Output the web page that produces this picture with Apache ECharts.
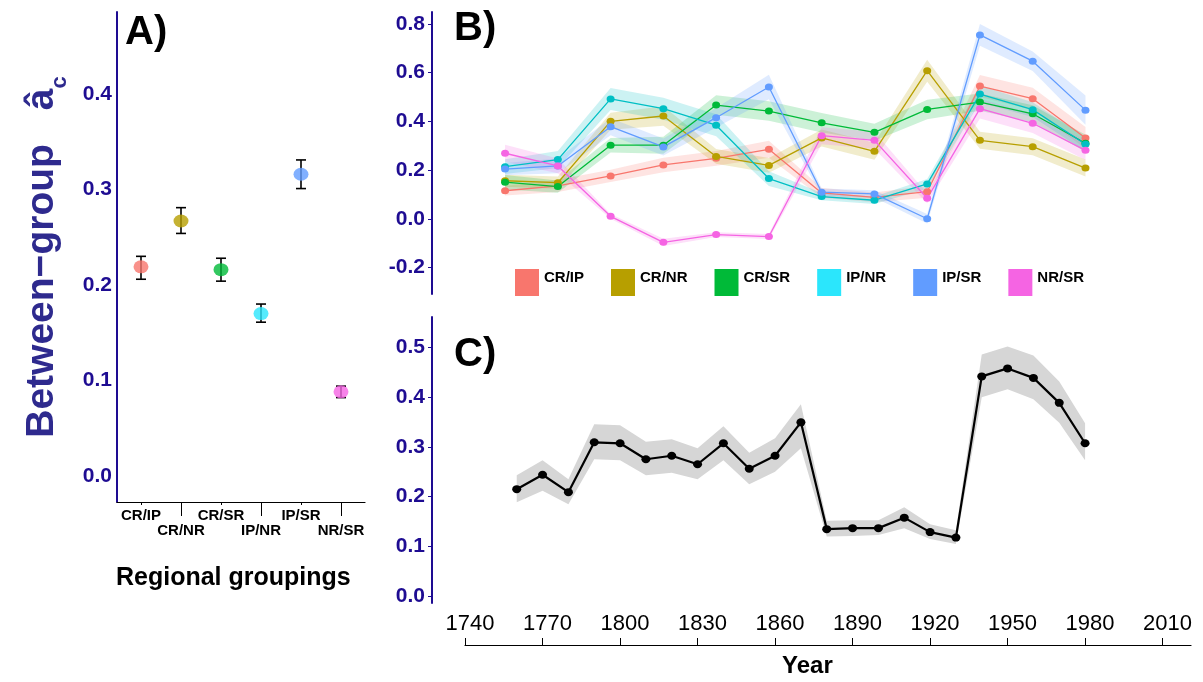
<!DOCTYPE html>
<html>
<head>
<meta charset="utf-8">
<script src="https://cdn.jsdelivr.net/npm/echarts@6/dist/echarts.min.js"></script>
<style>
  html, body { margin: 0; padding: 0; background: #fff; }
  #chart-container { width: 1203px; height: 682px; }
</style>
</head>
<body>
<div id="chart-container"></div>
<script>
var FONT = '"Liberation Sans", Arial, sans-serif';
var AXIS_BLUE = '#1E0C92';
var NAME_BLUE = '#2E2A8E';

// groups shared by the three panels
var groups = ['CR/IP', 'CR/NR', 'CR/SR', 'IP/NR', 'IP/SR', 'NR/SR'];
var lineColors = ['#F8766D', '#B79F00', '#00BA38', '#00BFC4', '#619CFF', '#F564E3'];
var keyColors = ['#F8766D', '#B79F00', '#00BA38', '#2BE6FC', '#619CFF', '#F564E3'];

// Panel A: between-group estimate with error bars
var aMean = [0.219, 0.267, 0.216, 0.170, 0.316, 0.088];
var aLow  = [0.206, 0.254, 0.204, 0.161, 0.301, 0.082];
var aHigh = [0.230, 0.281, 0.228, 0.180, 0.331, 0.094];
var aTicks = [0, 0.1, 0.2, 0.3, 0.4];

// Panel B: per-pair estimate over time (value and half-width of ribbon)
var bYears = [1760, 1780, 1800, 1820, 1840, 1860, 1880, 1900, 1920, 1940, 1960, 1980];
var bCrIp = [0.115, 0.135, 0.176, 0.221, 0.248, 0.285, 0.106, 0.088, 0.111, 0.545, 0.493, 0.332];
var bCrNr = [0.156, 0.148, 0.400, 0.422, 0.256, 0.219, 0.332, 0.277, 0.608, 0.322, 0.296, 0.208];
var bCrSr = [0.150, 0.132, 0.302, 0.302, 0.467, 0.442, 0.394, 0.355, 0.449, 0.479, 0.431, 0.310];
var bIpNr = [0.214, 0.243, 0.492, 0.452, 0.384, 0.165, 0.091, 0.076, 0.143, 0.512, 0.448, 0.306];
var bIpSr = [0.204, 0.217, 0.378, 0.295, 0.415, 0.541, 0.109, 0.102, 0.000, 0.755, 0.647, 0.446];
var bNrSr = [0.269, 0.217, 0.010, -0.097, -0.065, -0.073, 0.341, 0.322, 0.084, 0.452, 0.392, 0.281];
var bCrIpErr = [0.020, 0.025, 0.025, 0.030, 0.030, 0.035, 0.020, 0.020, 0.025, 0.045, 0.045, 0.045];
var bCrNrErr = [0.025, 0.025, 0.035, 0.040, 0.030, 0.030, 0.035, 0.035, 0.045, 0.035, 0.035, 0.035];
var bCrSrErr = [0.030, 0.025, 0.030, 0.035, 0.040, 0.040, 0.040, 0.035, 0.040, 0.035, 0.035, 0.035];
var bIpNrErr = [0.030, 0.035, 0.045, 0.045, 0.045, 0.030, 0.015, 0.015, 0.020, 0.035, 0.030, 0.030];
var bIpSrErr = [0.025, 0.030, 0.035, 0.035, 0.040, 0.050, 0.015, 0.015, 0.020, 0.045, 0.040, 0.060];
var bNrSrErr = [0.035, 0.030, 0.010, 0.015, 0.010, 0.010, 0.035, 0.035, 0.020, 0.040, 0.040, 0.040];
var bTicks = [-0.2, 0, 0.2, 0.4, 0.6, 0.8];

// Panel C: overall estimate over time
var cYears = [1760, 1770, 1780, 1790, 1800, 1810, 1820, 1830, 1840, 1850, 1860, 1870,
              1880, 1890, 1900, 1910, 1920, 1930, 1940, 1950, 1960, 1970, 1980];
var cMean = [0.215, 0.244, 0.209, 0.309, 0.307, 0.275, 0.282, 0.265, 0.307, 0.256, 0.282, 0.349,
             0.135, 0.137, 0.137, 0.158, 0.129, 0.118, 0.441, 0.457, 0.438, 0.388, 0.307];
var cLow  = [0.189, 0.212, 0.185, 0.275, 0.273, 0.243, 0.248, 0.235, 0.273, 0.225, 0.250, 0.297,
             0.120, 0.121, 0.123, 0.137, 0.115, 0.105, 0.399, 0.415, 0.395, 0.348, 0.273];
var cHigh = [0.243, 0.273, 0.235, 0.345, 0.343, 0.310, 0.315, 0.297, 0.341, 0.288, 0.317, 0.385,
             0.152, 0.153, 0.153, 0.179, 0.145, 0.133, 0.485, 0.501, 0.483, 0.431, 0.347];
var cTicks = [0, 0.1, 0.2, 0.3, 0.4, 0.5];
var yearTicks = [1740, 1770, 1800, 1830, 1860, 1890, 1920, 1950, 1980, 2010];

var bValues = [bCrIp, bCrNr, bCrSr, bIpNr, bIpSr, bNrSr];
var bErrors = [bCrIpErr, bCrNrErr, bCrSrErr, bIpNrErr, bIpSrErr, bNrSrErr];

var dom = document.getElementById('chart-container');
var myChart = echarts.init(dom, null, { renderer: 'canvas' });

function blueValueAxis(grid, min, max, ticks) {
    return {
        type: 'value', gridIndex: grid, min: min, max: max,
        splitLine: { show: false },
        axisLine: { show: true, onZero: false, lineStyle: { color: AXIS_BLUE, width: 2 } },
        axisTick: { show: true, length: 4, customValues: ticks, lineStyle: { color: AXIS_BLUE } },
        axisLabel: {
            customValues: ticks, margin: 7,
            color: AXIS_BLUE, fontFamily: FONT, fontWeight: 'bold', fontSize: 21,
            formatter: function (v) { return v.toFixed(1); }
        }
    };
}

function hiddenX(grid, min, max) {
    return {
        type: 'value', gridIndex: grid, min: min, max: max, show: false,
        axisLine: { onZero: false }, splitLine: { show: false }
    };
}

// one row of the staggered group labels under panel A
function groupAxis(positions, tickLength, labelMargin, showLine) {
    return {
        type: 'value', gridIndex: 0, min: 0.4, max: 6.6, position: 'bottom',
        splitLine: { show: false },
        axisLine: { show: showLine, onZero: false, lineStyle: { color: '#000', width: 1.2 } },
        axisTick: { show: true, length: tickLength, customValues: positions, lineStyle: { color: '#000' } },
        axisLabel: {
            customValues: positions, margin: labelMargin, interval: 0,
            showMinLabel: true, showMaxLabel: true,
            color: '#000', fontFamily: FONT, fontWeight: 'bold', fontSize: 15,
            formatter: function (v) { return groups[Math.round(v) - 1]; }
        }
    };
}

// ribbon drawn as one polygon through the axes' scales
function bandSeries(xIdx, yIdx, xs, lo, hi, fill) {
    return {
        type: 'custom', xAxisIndex: xIdx, yAxisIndex: yIdx, z: 1, silent: true,
        data: xs.map(function (x, i) { return [x, lo[i], hi[i]]; }),
        encode: { x: 0, y: [1, 2] },
        renderItem: function (params, api) {
            if (params.dataIndex !== 0) return;
            var top = [], bottom = [];
            for (var i = 0; i < xs.length; i++) {
                top.push(api.coord([xs[i], hi[i]]));
                bottom.unshift(api.coord([xs[i], lo[i]]));
            }
            return { type: 'polygon', shape: { points: top.concat(bottom) }, style: { fill: fill } };
        }
    };
}

var series = [];

// Panel A
series.push({
    type: 'custom', xAxisIndex: 0, yAxisIndex: 0, z: 2, silent: true,
    data: groups.map(function (g, i) { return [i + 1, aLow[i], aHigh[i]]; }),
    encode: { x: 0, y: [1, 2] },
    renderItem: function (params, api) {
        var x = api.value(0);
        var lo = api.coord([x, api.value(1)]);
        var hi = api.coord([x, api.value(2)]);
        var w = 5;
        var st = { stroke: '#000', lineWidth: 1.6 };
        return {
            type: 'group',
            children: [
                { type: 'line', shape: { x1: lo[0], y1: lo[1], x2: hi[0], y2: hi[1] }, style: st },
                { type: 'line', shape: { x1: lo[0] - w, y1: lo[1], x2: lo[0] + w, y2: lo[1] }, style: st },
                { type: 'line', shape: { x1: hi[0] - w, y1: hi[1], x2: hi[0] + w, y2: hi[1] }, style: st }
            ]
        };
    }
});
series.push({
    type: 'scatter', xAxisIndex: 0, yAxisIndex: 0, z: 3,
    symbol: 'circle', symbolSize: [15, 13],
    data: groups.map(function (g, i) {
        return { value: [i + 1, aMean[i]], itemStyle: { color: keyColors[i] } };
    })
});

// Panel B: ribbons then lines
groups.forEach(function (g, k) {
    var vals = bValues[k], errs = bErrors[k];
    var lo = vals.map(function (v, i) { return v - errs[i]; });
    var hi = vals.map(function (v, i) { return v + errs[i]; });
    var s = bandSeries(2, 1, bYears, lo, hi, echarts.color.modifyAlpha(lineColors[k], 0.2));
    s.name = 'band ' + g;
    series.push(s);
});
groups.forEach(function (g, k) {
    series.push({
        name: g, type: 'line', xAxisIndex: 2, yAxisIndex: 1, z: 3,
        symbol: 'circle', symbolSize: [8, 7], showSymbol: true,
        color: lineColors[k],
        lineStyle: { width: 1.3, color: lineColors[k] },
        itemStyle: { color: lineColors[k] },
        data: bYears.map(function (y, i) { return [y, bValues[k][i]]; })
    });
});

// Panel C
var cBand = bandSeries(3, 2, cYears, cLow, cHigh, '#D6D6D6');
cBand.name = 'overall band';
series.push(cBand);
series.push({
    name: 'overall', type: 'line', xAxisIndex: 3, yAxisIndex: 2, z: 3,
    symbol: 'circle', symbolSize: [9, 8],
    lineStyle: { width: 2.2, color: '#000' },
    itemStyle: { color: '#000' },
    data: cYears.map(function (y, i) { return [y, cMean[i]]; })
});

var titleFont = { fontFamily: FONT, fontSize: 40, fontWeight: 'bold', color: '#000' };

var option = {
    animation: false,
    backgroundColor: '#fff',
    title: [
        { text: 'A)', left: 125, top: 13, padding: 0, textStyle: titleFont },
        { text: 'B)', left: 454, top: 9, padding: 0, textStyle: titleFont },
        { text: 'C)', left: 454, top: 335, padding: 0, textStyle: titleFont },
        { text: 'Regional groupings', left: 116, top: 566, padding: 0, textStyle: { fontFamily: FONT, fontSize: 25, fontWeight: 'bold', color: '#000' } },
        { text: 'Year', left: 782, top: 654, padding: 0, textStyle: { fontFamily: FONT, fontSize: 24, fontWeight: 'bold', color: '#000' } }
    ],
    legend: {
        left: 515, top: 269, padding: 0,
        icon: 'rect', itemWidth: 24, itemHeight: 27, itemGap: 27,
        selectedMode: false,
        formatter: function (name) { return '{t|' + name + '}'; },
        textStyle: {
            fontFamily: FONT, fontSize: 15, fontWeight: 'bold', color: '#000',
            rich: { t: { fontFamily: FONT, fontSize: 15, fontWeight: 'bold', color: '#000', padding: [0, 0, 10, 0] } }
        },
        data: groups.map(function (g, k) { return { name: g, itemStyle: { color: keyColors[k] } }; })
    },
    grid: [
        { left: 117, top: 12, width: 248, height: 490 },
        { left: 432, top: 12, right: 12, height: 282 },
        { left: 432, top: 317, right: 12, height: 286 },
        { left: 465, top: 645, right: 12, height: 10 }
    ],
    xAxis: [
        groupAxis([1, 3, 5], 3, 6, true),
        groupAxis([2, 4, 6], 14, 21, false),
        hiddenX(1, 1732.3, 2020),
        hiddenX(2, 1727.2, 2021),
        {
            type: 'value', gridIndex: 3, min: 1740, max: 2021, position: 'top',
            splitLine: { show: false },
            axisLine: { show: true, onZero: false, lineStyle: { color: '#000', width: 1.2 } },
            axisTick: { show: true, length: 7, customValues: yearTicks, lineStyle: { color: '#000' } },
            axisLabel: {
                customValues: yearTicks, margin: 10, padding: [0, 0, 0, 10],
                showMinLabel: true, showMaxLabel: true,
                color: '#000', fontFamily: FONT, fontSize: 22,
                formatter: function (v) { return String(v); }
            }
        }
    ],
    yAxis: [
        {
            type: 'value', gridIndex: 0, min: -0.0274, max: 0.486,
            splitLine: { show: false },
            axisLine: { show: true, onZero: false, lineStyle: { color: AXIS_BLUE, width: 2 } },
            axisTick: { show: false },
            axisLabel: {
                customValues: aTicks, margin: 5,
                color: AXIS_BLUE, fontFamily: FONT, fontWeight: 'bold', fontSize: 21,
                formatter: function (v) { return v.toFixed(1); }
            },
            name: '{m|Between\u2212group}{h|\u00e2}{s|c}',
            nameLocation: 'middle', nameRotate: 90, nameGap: 46,
            nameTextStyle: {
                color: NAME_BLUE, fontFamily: FONT, fontWeight: 'bold', fontSize: 39,
                rich: {
                    m: { fontFamily: FONT, fontWeight: 'bold', fontSize: 39, color: NAME_BLUE, padding: [0, 34, 9, 0] },
                    h: { fontFamily: FONT, fontWeight: 'bold', fontSize: 39, color: NAME_BLUE, padding: [0, 0, 9, 0] },
                    s: { fontFamily: FONT, fontWeight: 'bold', fontSize: 22, color: NAME_BLUE, verticalAlign: 'bottom' }
                }
            }
        },
        blueValueAxis(1, -0.309, 0.849, bTicks),
        blueValueAxis(2, -0.013, 0.56, cTicks),
        { type: 'value', gridIndex: 3, show: false, min: 0, max: 1, axisLine: { onZero: false } }
    ],
    series: series
};

myChart.setOption(option);

window.addEventListener('resize', function () {
    myChart.resize();
});
</script>
</body>
</html>
